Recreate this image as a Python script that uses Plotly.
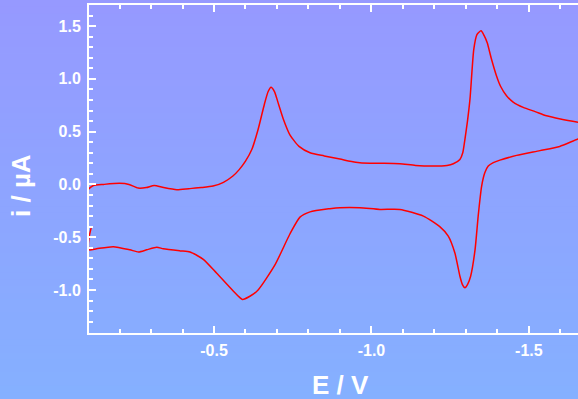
import plotly.graph_objects as go

# Forward scan (E in V, i in µA)
E_fwd = [-0.092, -0.100, -0.117, -0.15, -0.20, -0.23, -0.259, -0.285, -0.31, -0.34, -0.382, -0.42,
         -0.46, -0.497, -0.53, -0.56, -0.58, -0.60, -0.62, -0.64, -0.66, -0.672, -0.681, -0.692,
         -0.705, -0.72, -0.741, -0.77, -0.805, -0.85, -0.9, -0.95, -0.995, -1.04, -1.09, -1.14,
         -1.196, -1.24, -1.26, -1.281, -1.29, -1.297, -1.305, -1.313, -1.325, -1.335, -1.348,
         -1.358, -1.368, -1.38, -1.397, -1.41, -1.429, -1.45, -1.482, -1.52, -1.556, -1.60,
         -1.656, -1.70]
i_fwd = [-0.10, -0.05, -0.01, 0.00, 0.01, 0.00, -0.035, -0.03, -0.01, -0.03, -0.05, -0.04,
         -0.03, -0.016, 0.02, 0.08, 0.14, 0.22, 0.33, 0.52, 0.76, 0.88, 0.92, 0.88,
         0.76, 0.62, 0.47, 0.36, 0.30, 0.27, 0.24, 0.21, 0.20, 0.20, 0.196, 0.18,
         0.174, 0.18, 0.196, 0.237, 0.30, 0.43, 0.60, 0.81, 1.28, 1.42, 1.455,
         1.41, 1.34, 1.20, 1.03, 0.93, 0.84, 0.78, 0.73, 0.69, 0.65, 0.62,
         0.59, 0.57]

# Reverse scan
E_rev = [-1.70, -1.656, -1.598, -1.535, -1.461, -1.408, -1.387, -1.371, -1.36, -1.35, -1.339,
         -1.329, -1.315, -1.305, -1.297, -1.289, -1.281, -1.265, -1.244, -1.217, -1.165, -1.09,
         -1.027, -0.963, -0.90, -0.868, -0.805, -0.773, -0.741, -0.694, -0.64, -0.614, -0.59,
         -0.583, -0.561, -0.508, -0.466, -0.424, -0.392, -0.339, -0.318, -0.286, -0.26, -0.233,
         -0.18, -0.127, -0.104, -0.101, -0.104, -0.11]
i_rev = [0.47, 0.43, 0.36, 0.32, 0.275, 0.23, 0.206, 0.174, 0.11, -0.016, -0.30,
         -0.62, -0.87, -0.95, -0.98, -0.95, -0.87, -0.65, -0.49, -0.40, -0.30, -0.237,
         -0.237, -0.22, -0.22, -0.23, -0.26, -0.31, -0.47, -0.76, -1.0, -1.06, -1.09,
         -1.075, -1.01, -0.84, -0.71, -0.64, -0.63, -0.61, -0.595, -0.62, -0.64, -0.62,
         -0.59, -0.61, -0.62, -0.585, -0.49, -0.41]

x_ticks = [-0.5, -1.0, -1.5]
x_tick_labels = ["-0.5", "-1.0", "-1.5"]
y_ticks = [-1.0, -0.5, 0.0, 0.5, 1.0, 1.5]
y_tick_labels = ["-1.0", "-0.5", "0.0", "0.5", "1.0", "1.5"]
x_title = "E / V"
y_title = "i / µA"

W, H = 578, 399
ML, MR, MT, MB = 89, 0, 5, 66
PW = W - ML - MR
PH = H - MT - MB

fig = go.Figure()
fig.add_trace(go.Scatter(x=E_fwd + E_rev, y=i_fwd + i_rev, mode="lines",
                         line=dict(color="#ff0000", width=1.5, shape="spline", smoothing=0.6),
                         hoverinfo="skip"))

# vertical gradient background
top = (150, 153, 255)
bot = (133, 176, 255)
n = 60
y_top = 1 + MT / PH
y_bot = -MB / PH
shapes = []
for k in range(n):
    t = k / (n - 1)
    c = tuple(round(top[j] + (bot[j] - top[j]) * t) for j in range(3))
    y1 = y_top - (y_top - y_bot) * k / n
    y0 = y_top - (y_top - y_bot) * (k + 1) / n - 0.002
    shapes.append(dict(type="rect", xref="paper", yref="paper", x0=-1, x1=2, y0=y0, y1=y1,
                       fillcolor="rgb(%d,%d,%d)" % c, line=dict(width=0), layer="below"))

font_tick = dict(family="Liberation Sans, Arial, sans-serif", size=16, color="white", weight="bold")
font_title = dict(family="Liberation Sans, Arial, sans-serif", size=26, color="white", weight="bold")

annotations = [
    dict(text=x_title, xref="paper", yref="paper", x=(340 - ML) / PW, y=-(385 - (H - MB)) / PH,
         xanchor="center", yanchor="middle", showarrow=False, font=font_title),
    dict(text=y_title, xref="paper", yref="paper", x=(21 - ML) / PW, y=((H - MB) - 186) / PH,
         xanchor="center", yanchor="middle", showarrow=False, font=font_title, textangle=-90),
]

fig.update_layout(
    width=W, height=H,
    margin=dict(l=ML, r=MR, t=MT, b=MB),
    paper_bgcolor="rgb(140,165,255)",
    plot_bgcolor="rgba(0,0,0,0)",
    shapes=shapes,
    annotations=annotations,
    showlegend=False,
    xaxis=dict(range=[-0.103, -1.656], tickvals=x_ticks, ticktext=x_tick_labels,
               ticks="inside", ticklen=7, tickwidth=1.5, tickcolor="white",
               minor=dict(ticks="inside", ticklen=4, dtick=0.1, tick0=0, tickcolor="white", tickwidth=1.5),
               showline=True, linecolor="white", linewidth=2, mirror="ticks",
               showgrid=False, zeroline=False, tickfont=font_tick, ticklabelstandoff=2),
    yaxis=dict(range=[-1.408, 1.70], tickvals=y_ticks, ticktext=y_tick_labels,
               ticks="inside", ticklen=7, tickwidth=1.5, tickcolor="white",
               minor=dict(ticks="inside", ticklen=4, dtick=0.1, tick0=0, tickcolor="white", tickwidth=1.5),
               showline=True, linecolor="white", linewidth=2, mirror=False,
               showgrid=False, zeroline=False, tickfont=font_tick, ticklabelstandoff=3),
)

fig.write_html("out.html")
